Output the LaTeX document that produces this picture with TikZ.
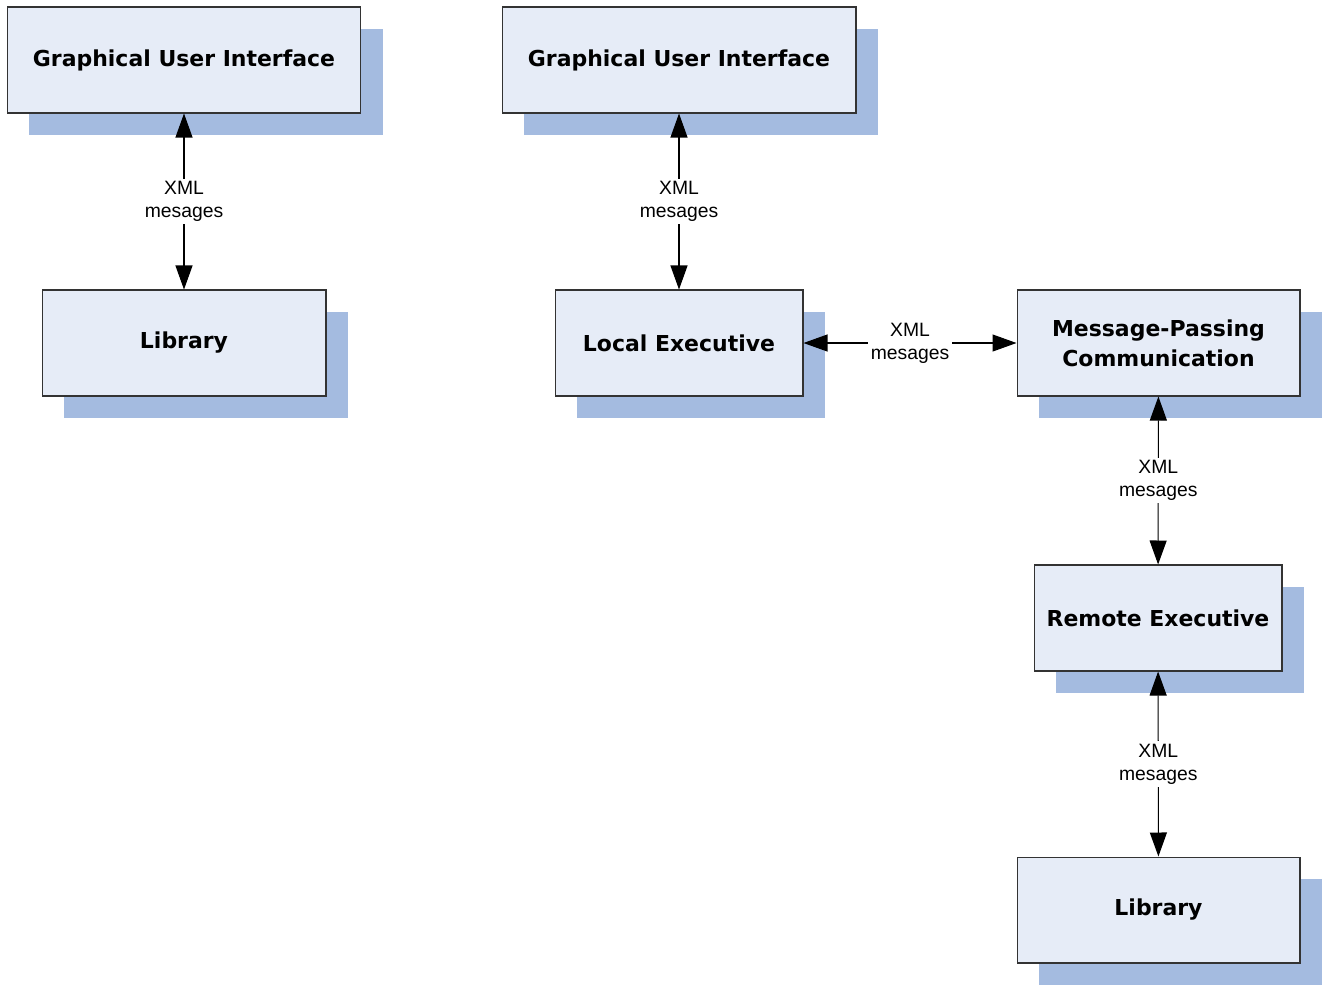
\documentclass[tikz,border=0pt]{standalone}
\usepackage{fontspec}
\setmainfont{Liberation Sans}
\newfontfamily\blockfont{DejaVu Sans}
\usetikzlibrary{arrows.meta, shadows}
\definecolor{blockfill}{HTML}{E6ECF7}
\definecolor{shadowblue}{HTML}{A4BBE0}

\begin{document}
\begin{tikzpicture}[x=0.02cm, y=-0.02cm,
block/.style={draw=black!80, line width=0.6pt, fill=blockfill,
  minimum height=2.12cm, inner sep=0pt, align=center,
  font=\blockfont\bfseries\fontsize{12.5}{17}\selectfont,
  general shadow={fill=shadowblue, shadow xshift=0.44cm, shadow yshift=-0.44cm}},
description/.style={fill=white, inner sep=1.5pt, align=center,
  font=\fontsize{11}{13}\selectfont}]
\useasboundingbox (0,0) rectangle (1322,985);

\node[block, minimum width=7.08cm] (gui1) at (184,60) {Graphical User Interface};
\node[block, minimum width=5.68cm] (lib1) at (184,343) {Library};
\node[block, minimum width=7.08cm] (gui2) at (679,60) {Graphical User Interface};
\node[block, minimum width=4.96cm] (locex) at (679,343) {Local Executive};
\node[block, minimum width=5.66cm] (mpc) at (1158.5,343) {Message-Passing\\Communication};
\node[block, minimum width=4.96cm] (remex) at (1158,618) {Remote Executive};
\node[block, minimum width=5.66cm] (lib2) at (1158.5,910) {Library};

\path[{Triangle[length=0.48cm,width=0.34cm]}-{Triangle[length=0.48cm,width=0.34cm]}, line width=0.6pt]
(gui1) edge node[description] {XML\\mesages} (lib1)
(gui2) edge node[description] {XML\\mesages} (locex)
(locex) edge node[description] {XML\\mesages} (mpc)
(mpc) edge node[description] {XML\\mesages} (remex)
(remex) edge node[description] {XML\\mesages} (lib2);
\end{tikzpicture}
\end{document}
